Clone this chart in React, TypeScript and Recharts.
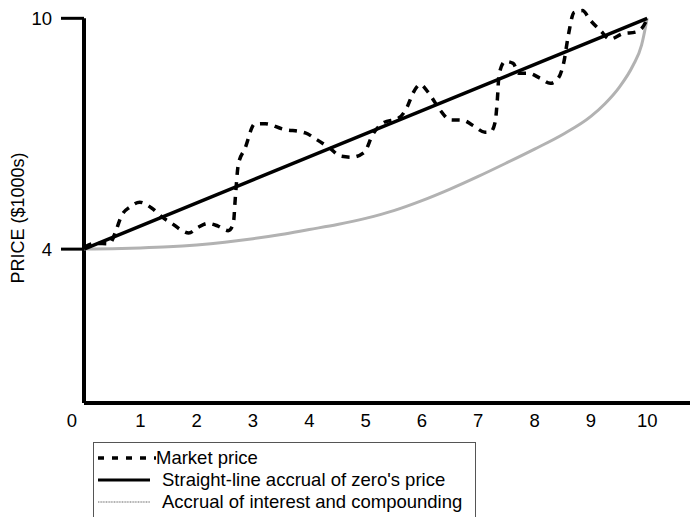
import React from 'react';
import { LineChart, Line, XAxis, YAxis, ReferenceLine } from 'recharts';

// years to maturity vs price ($1000s)
const xTicks = [0, 1, 2, 3, 4, 5, 6, 7, 8, 9, 10];
const yTicks = [4, 10];

const marketX = [0, 0.2, 0.45, 0.56, 0.66, 0.82, 0.99, 1.2, 1.39, 1.57, 1.72, 1.86, 2.02, 2.2, 2.38, 2.56, 2.65, 2.69, 2.74, 2.86, 3.03, 3.22, 3.53, 3.93, 4.14, 4.37, 4.55, 4.76, 4.98, 5.12, 5.3, 5.6, 5.74, 5.84, 5.97, 6.11, 6.32, 6.5, 6.73, 6.9, 7.12, 7.22, 7.3, 7.34, 7.37, 7.48, 7.62, 7.72, 7.9, 8.1, 8.28, 8.42, 8.52, 8.6, 8.7, 8.85, 8.99, 9.17, 9.34, 9.57, 9.79, 9.91, 10];
const marketY = [4.05, 4.15, 4.14, 4.45, 4.85, 5.1, 5.22, 5.07, 4.83, 4.66, 4.5, 4.42, 4.56, 4.67, 4.6, 4.48, 4.65, 5.4, 6.2, 6.62, 7.25, 7.26, 7.12, 7.02, 6.84, 6.62, 6.42, 6.39, 6.52, 6.96, 7.27, 7.42, 7.7, 8.05, 8.28, 8.08, 7.62, 7.36, 7.35, 7.22, 7.04, 7.05, 7.3, 7.9, 8.55, 8.88, 8.83, 8.57, 8.57, 8.44, 8.31, 8.44, 8.86, 9.56, 10.15, 10.2, 9.95, 9.68, 9.46, 9.6, 9.64, 9.75, 9.98];

const straightX = [0, 10];
const straightY = [4, 10];

const accrualX = [0, 0.5, 1, 1.5, 2, 2.5, 3, 3.5, 4, 4.5, 5, 5.5, 6, 6.5, 7, 7.5, 8, 8.5, 9, 9.25, 9.5, 9.75, 9.9, 10];
const accrualY = [4.0, 4.01, 4.03, 4.06, 4.11, 4.18, 4.27, 4.38, 4.51, 4.64, 4.8, 5.0, 5.26, 5.56, 5.89, 6.24, 6.6, 6.98, 7.45, 7.78, 8.2, 8.78, 9.3, 10];

const legendLabels = ['Market price', "Straight-line accrual of zero's price", 'Accrual of interest and compounding'];

const zip = (xs: number[], ys: number[]) => xs.map((x, i) => ({ x, y: ys[i] }));
const market = zip(marketX, marketY);
const straight = zip(straightX, straightY);
const accrual = zip(accrualX, accrualY);

const FONT = '"Liberation Sans", Arial, sans-serif';
const GRAY = '#b2b2b2';

const XTick = (props: any) => {
  const { x, y, payload } = props;
  return (
    <text x={x + (payload.value === 0 ? -12 : 0)} y={y} dy="0.71em" textAnchor="middle"
      fontSize={18.5} fontFamily={FONT} fill="#000">
      {payload.value}
    </text>
  );
};

const YLabel = (props: any) => {
  const { viewBox } = props;
  const cx = viewBox.x + 18;
  const cy = viewBox.y + viewBox.height / 2 + 16;
  return (
    <text x={cx} y={cy} transform={`rotate(-90 ${cx} ${cy})`} textAnchor="middle" dominantBaseline="central"
      fontSize={18} fontFamily={FONT} fill="#000">
      PRICE ($1000s)
    </text>
  );
};

const samples = [
  { stroke: '#000', width: 3.5, dash: '6 8' },
  { stroke: '#000', width: 3, dash: undefined },
  { stroke: GRAY, width: 2, dash: '1 0.6' },
];

export default function App() {
  return (
    <div style={{ position: 'absolute', left: 0, top: 0, width: 692, height: 517, background: '#fff', overflow: 'hidden' }}>
      <LineChart width={692} height={517} margin={{ top: 1, right: 2, left: 0, bottom: 84 }}>
        <XAxis type="number" dataKey="x" domain={[0, 10.76]} ticks={xTicks} interval={0}
          axisLine={{ stroke: '#000', strokeWidth: 4 }} tickLine={false} tickSize={8} tickMargin={3}
          height={30} tick={<XTick />} />
        <YAxis type="number" dataKey="y" domain={[0, 10.45]} ticks={yTicks} interval={0} width={84}
          axisLine={false} tickLine={{ stroke: '#000', strokeWidth: 3 }} tickSize={23} tickMargin={9}
          tick={{ fill: '#000', fontSize: 18.5, fontFamily: FONT }}
          label={<YLabel />} />
        <ReferenceLine segment={[{ x: 0, y: 0 }, { x: 0, y: 10 }]} stroke="#000" strokeWidth={4} />
        <Line data={accrual} dataKey="y" type="monotone" stroke={GRAY} strokeWidth={3}
          dot={false} isAnimationActive={false} />
        <Line data={straight} dataKey="y" type="linear" stroke="#000" strokeWidth={3.5}
          dot={false} isAnimationActive={false} />
        <Line data={market} dataKey="y" type="monotone" stroke="#000" strokeWidth={3.5} strokeDasharray="8 7"
          dot={false} isAnimationActive={false} />
      </LineChart>
      <div style={{ position: 'absolute', left: 93, top: 442, width: 383, height: 90, border: '1px solid #555',
        fontFamily: FONT, fontSize: 18.5, color: '#000', boxSizing: 'border-box' }}>
        {legendLabels.map((label, i) => (
          <div key={label} style={{ position: 'absolute', left: 2, top: 4 + i * 22, height: 22, display: 'flex', alignItems: 'center', whiteSpace: 'nowrap' }}>
            <svg width={i === 0 ? 60 : 64} height={10} style={{ marginRight: i === 0 ? 0 : 2 }}>
              <line x1={2} y1={5} x2={i === 0 ? 60 : 54} y2={5} stroke={samples[i].stroke}
                strokeWidth={samples[i].width} strokeDasharray={samples[i].dash} />
            </svg>
            <span>{label}</span>
          </div>
        ))}
      </div>
    </div>
  );
}
